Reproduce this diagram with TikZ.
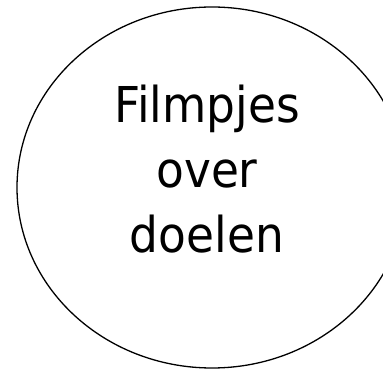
\documentclass[tikz,border=0pt]{standalone}
\usepackage{fontspec}
\setmainfont{DejaVu Sans}[FakeStretch=0.92]
\usepackage{tikz}
\usetikzlibrary{shapes.geometric}
\tikzset{
  bubble/.style={draw=black,line width=1.3pt,ellipse,inner sep=0pt,
    minimum width=390pt,minimum height=361pt},
  bubbletxt/.style={inner sep=0pt,align=center,
    font=\fontsize{49.4pt}{65pt}\selectfont},
}
\begin{document}
\begin{tikzpicture}[x=1pt,y=1pt]
  \useasboundingbox (0,0) rectangle (383,369);
  \node[bubble](goal) at (212,181.5){};
  \node[bubbletxt](label) at (207,200){Filmpjes\\over\\doelen};
\end{tikzpicture}
\end{document}
